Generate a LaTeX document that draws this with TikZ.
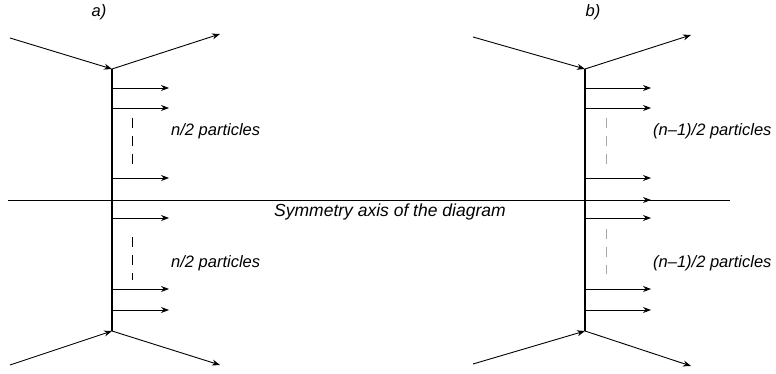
\documentclass[tikz,border=0pt]{standalone}
\usepackage{fontspec}
\setmainfont{Liberation Sans}
\usetikzlibrary{arrows.meta,positioning}
\tikzset{
  leg/.style={-{Stealth[length=8pt,width=6pt]},line width=0.9pt},
  ray/.style={-{Stealth[length=8pt,width=6pt]},line width=0.9pt},
  stem/.style={line width=1.3pt},
  gap/.style={line width=0.8pt,dash pattern=on 10pt off 8pt},
  lbl/.style={font=\fontsize{16.5}{19}\selectfont\itshape,inner sep=0pt},
}

\begin{document}
\begin{tikzpicture}[x=1pt,y=-1pt]
  \useasboundingbox (0,0) rectangle (776,374);
  % symmetry axis
  \coordinate (axL) at (8,200);
  \coordinate (axR) at (730,200);
  \draw[line width=0.7pt] (axL) -- (axR);
  \node[lbl,font=\fontsize{17.5}{20}\selectfont\itshape,anchor=west] (axis) at (274,212) {Symmetry axis of the diagram};

  % a)
  \node[lbl] (aName) at (99,12) {a)};
  \coordinate (aTop) at (112,69);
  \coordinate (aBot) at (112,331);
  \coordinate (aInT) at (10,38);
  \coordinate (aOutT) at (220,34);
  \coordinate (aInB) at (10,365);
  \coordinate (aOutB) at (220,365);
  \draw[stem] (aTop) -- (aBot);
  \draw[leg] (aInT) -- (aTop);
  \draw[leg] (aTop) -- (aOutT);
  \draw[leg] (aInB) -- (aBot);
  \draw[leg] (aBot) -- (aOutB);
  \foreach \y [count=\i] in {88,108,178,218,289,310} {
    \coordinate (a\i) at (112,\y);
    \coordinate (a\i e) at (169,\y);
    \draw[ray] (a\i) -- (a\i e);
  }
  \coordinate (aGapT1) at (132,118);
  \coordinate (aGapT2) at (132,164);
  \coordinate (aGapB1) at (132,237);
  \coordinate (aGapB2) at (132,280);
  \draw[gap] (aGapT1) -- (aGapT2);
  \draw[gap] (aGapB1) -- (aGapB2);
  \node[lbl,anchor=west] (aUp) at (171,131) {n/2 particles};
  \node[lbl,anchor=west] (aLow) at (171,263) {n/2 particles};

  % b)
  \node[lbl] (bName) at (593,12) {b)};
  \coordinate (bTop) at (585,69);
  \coordinate (bBot) at (585,331);
  \coordinate (bInT) at (473,37);
  \coordinate (bOutT) at (691,35);
  \coordinate (bInB) at (473,364);
  \coordinate (bOutB) at (691,366);
  \draw[stem] (bTop) -- (bBot);
  \draw[leg] (bInT) -- (bTop);
  \draw[leg] (bTop) -- (bOutT);
  \draw[leg] (bInB) -- (bBot);
  \draw[leg] (bBot) -- (bOutB);
  \foreach \y [count=\i] in {88,108,178,200,218,289,310} {
    \coordinate (b\i) at (585,\y);
    \coordinate (b\i e) at (651,\y);
    \draw[ray] (b\i) -- (b\i e);
  }
  \coordinate (bGapT1) at (606,118);
  \coordinate (bGapT2) at (606,164);
  \coordinate (bGapB1) at (606,229);
  \coordinate (bGapB2) at (606,274);
  \draw[gap,gray!70] (bGapT1) -- (bGapT2);
  \draw[gap,gray!70] (bGapB1) -- (bGapB2);
  \node[lbl,anchor=west] (bUp) at (653,131) {(n–1)/2 particles};
  \node[lbl,anchor=west] (bLow) at (653,263) {(n–1)/2 particles};
\end{tikzpicture}
\end{document}
